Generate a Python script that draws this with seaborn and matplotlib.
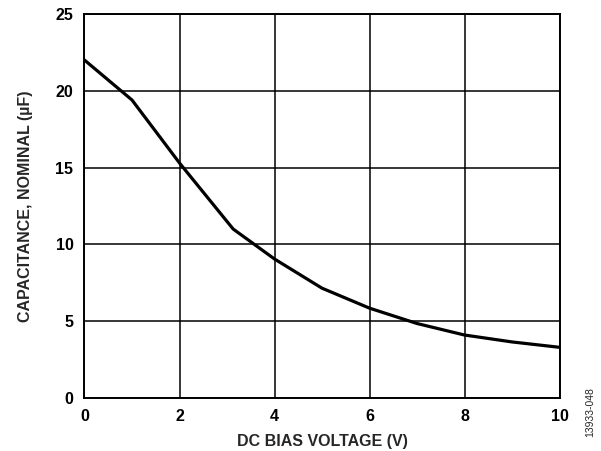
import matplotlib
matplotlib.use("Agg")
import matplotlib.pyplot as plt
import seaborn as sns
import pandas as pd

voltage = [0, 1, 2, 3.13, 4, 5, 6, 7, 8, 9, 10]
capacitance = [22.0, 19.4, 15.3, 11.0, 9.05, 7.15, 5.85, 4.85, 4.1, 3.65, 3.3]
x_ticks = [0, 2, 4, 6, 8, 10]
y_ticks = [0, 5, 10, 15, 20, 25]

sns.set_theme(style="white")
plt.rcParams['font.family'] = ['Liberation Sans', 'DejaVu Sans']

df = pd.DataFrame({"v": voltage, "c": capacitance})

fig = plt.figure(figsize=(6.01, 4.51), dpi=100)
ax = fig.add_axes([84.5/601, 1-398/451, 475/601, 384/451])

sns.lineplot(data=df, x="v", y="c", ax=ax, color="black", linewidth=2.3)

ax.set_xlim(0, 10)
ax.set_ylim(0, 25)
ax.set_xticks(x_ticks)
ax.set_yticks(y_ticks)
ax.set_xticklabels([str(t) for t in x_ticks], fontweight="bold", fontsize=11.5)
ax.set_yticklabels([str(t) for t in y_ticks], fontweight="bold", fontsize=11.5)
ax.tick_params(axis="both", length=0, pad=8, colors="black")
ax.grid(True, color="black", linewidth=1.1)
for s in ax.spines.values():
    s.set_color("black")
    s.set_linewidth(1.4)
ax.set_xlabel("DC BIAS VOLTAGE (V)", fontweight="bold", fontsize=11.5, labelpad=7)
ax.set_ylabel("CAPACITANCE, NOMINAL (µF)", fontweight="bold", fontsize=11.5, labelpad=16)

fig.text(590/601, 1-412/451, "13933-048", rotation=90, fontsize=7.5, ha="center", va="center")

fig.savefig("out.png", dpi=100)
